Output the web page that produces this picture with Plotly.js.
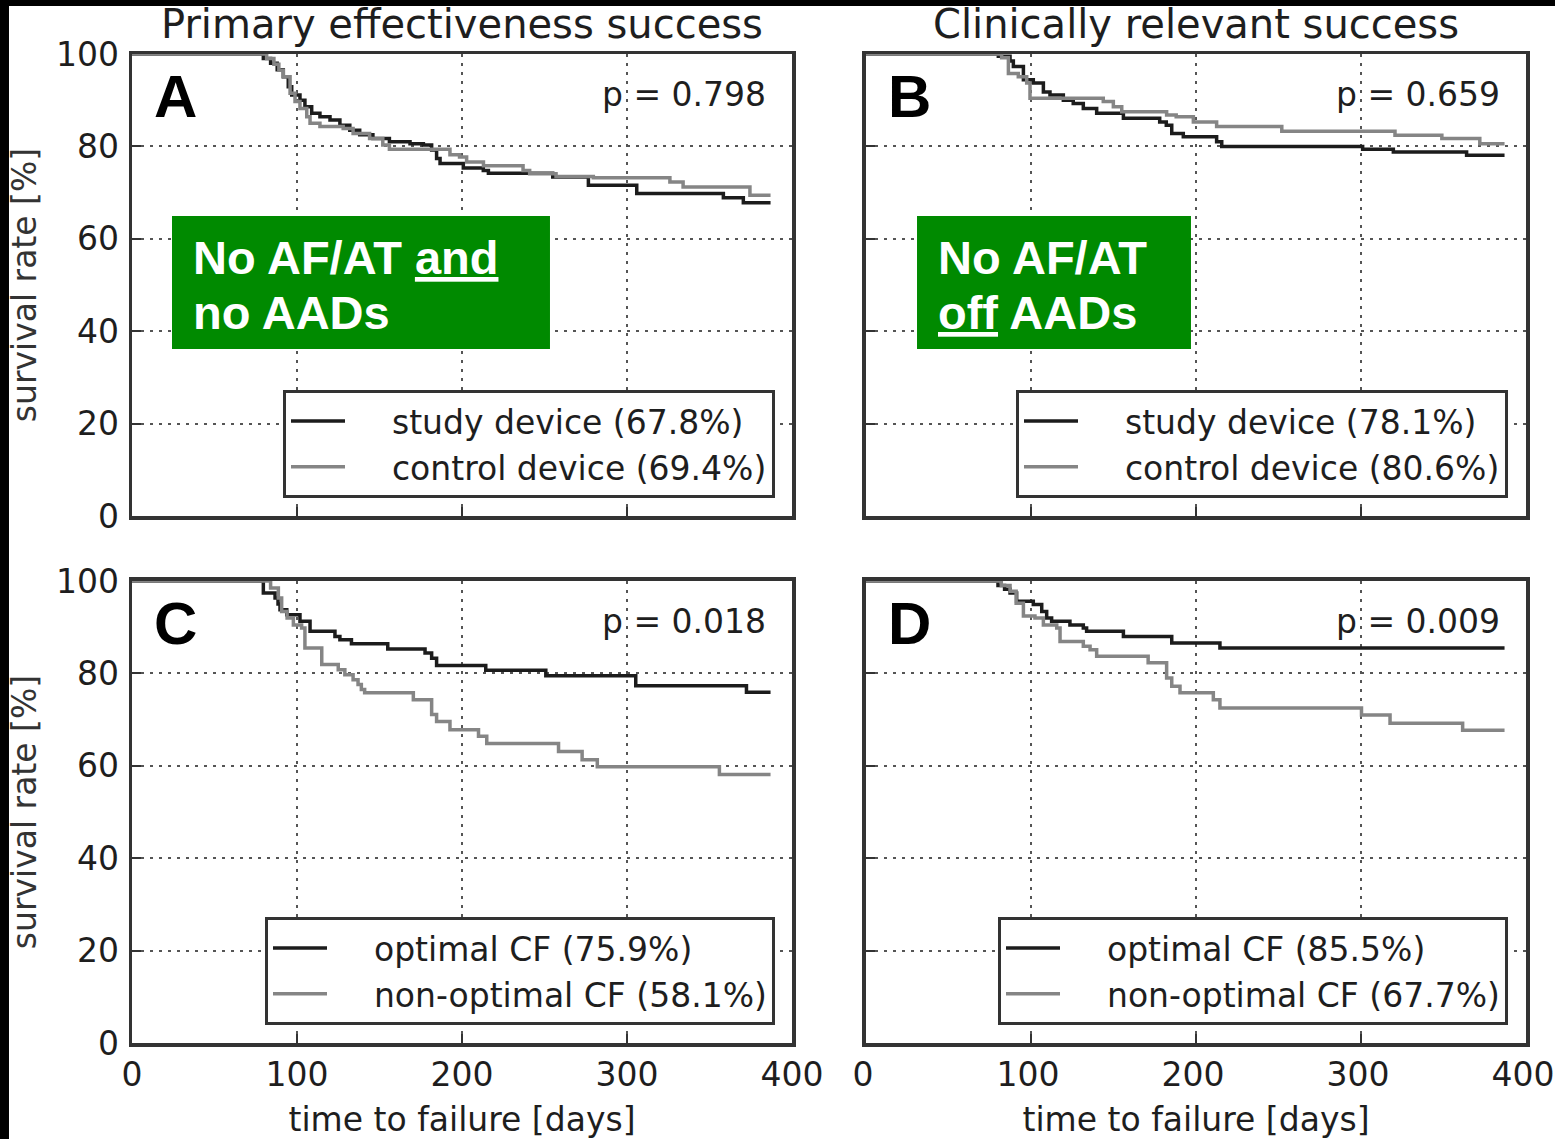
<!DOCTYPE html>
<html>
<head>
<meta charset="utf-8">
<script src="https://cdn.plot.ly/plotly-3.0.1.min.js"></script>
<style>
  html, body { margin: 0; padding: 0; background: #fff; width: 1555px; height: 1139px; overflow: hidden; }
  #chart { position: absolute; left: 0; top: 0; width: 1555px; height: 1139px; }
</style>
</head>
<body>
<div id="chart"></div>
<script>
// Kaplan-Meier step curves: event day -> survival (%) after that event
const daysA_study   = [0, 79.6, 84, 88, 91.7, 94.7, 96.8, 101.8, 104.8, 108.9, 113.9, 120, 126, 132, 138, 146, 156, 168.5, 176.6, 181.6, 184.6, 186.7, 200.8, 212.9, 216, 255, 276.6, 305.9, 358.4, 370.5, 387];
const survA_study   = [100, 99.0, 98.0, 96.6, 95.1, 92.9, 91.1, 90.0, 88.6, 87.2, 86.4, 85.7, 84.6, 83.5, 82.5, 81.7, 81.0, 80.6, 80.3, 79.2, 77.4, 76.3, 75.3, 74.8, 74.2, 73.4, 71.6, 69.8, 68.9, 67.8, 67.8];
const daysA_control = [0, 81.6, 86, 89, 91.7, 95.8, 98.8, 101.8, 105.9, 107.9, 113.9, 128, 134, 144, 152, 156, 192.7, 198.5, 202.8, 213, 237, 241, 257, 279.6, 326, 334, 374.5, 387];
const survA_control = [100, 99.0, 97.8, 96.5, 95.1, 91.5, 89.7, 88.2, 86.4, 85.0, 84.3, 83.9, 82.8, 81.7, 80.3, 79.4, 78.2, 77.7, 76.6, 75.8, 74.8, 74.1, 73.5, 73.2, 72.3, 71.2, 69.4, 69.4];

const daysB_study   = [0, 80.2, 87.3, 89.3, 95.4, 101.4, 107.5, 111.5, 119.6, 125.6, 131.7, 139.8, 156, 178, 182, 185.3, 192.3, 212.5, 215.6, 301, 319.6, 364, 387];
const survB_study   = [100, 99.5, 98.5, 97.3, 94.4, 93.7, 91.8, 91.1, 90.0, 89.3, 88.2, 87.2, 86.1, 85.3, 84.6, 82.8, 82.1, 81.0, 80.0, 79.4, 78.8, 78.1, 78.1];
const daysB_control = [0, 82.2, 86.3, 92.3, 97.4, 99.4, 143.8, 149.9, 155, 182.2, 188, 198.4, 212.5, 252, 320.6, 349, 372, 387];
const survB_control = [100, 99.2, 95.8, 95.1, 93.7, 90.4, 89.7, 88.6, 87.5, 86.8, 86.4, 85.3, 84.3, 83.3, 82.4, 81.7, 80.6, 80.6];

const daysC_opt     = [0, 79.6, 86.7, 88.5, 89.7, 93.8, 101.8, 107.9, 123, 126, 133, 155, 177.6, 181.6, 184.6, 214.4, 250.8, 305.3, 372.4, 387];
const survC_opt     = [100, 97.4, 96.3, 95.0, 93.8, 92.7, 91.3, 89.1, 88.0, 87.3, 86.4, 85.3, 84.4, 83.3, 81.7, 80.7, 79.5, 77.3, 75.9, 75.9];
const daysC_nonopt  = [0, 84, 88.7, 90.7, 94, 97.8, 102.8, 104.8, 115, 125, 129, 134, 137, 139, 141, 170.5, 181.6, 184.6, 192.7, 210, 215, 258.5, 272.8, 282, 356, 387];
const survC_nonopt  = [100, 98.5, 96.3, 93.4, 92.0, 90.5, 89.8, 85.5, 81.9, 80.8, 79.7, 78.6, 77.6, 76.5, 75.8, 74.3, 71.1, 69.6, 67.8, 66.4, 64.8, 63.1, 61.3, 59.8, 58.1, 58.1];

const daysD_opt     = [0, 80, 84, 87.3, 91.3, 101.4, 106.5, 109.5, 112.5, 123.6, 131.7, 133.7, 156, 185.3, 214.5, 387];
const survD_opt     = [100, 99.0, 98.2, 97.4, 95.6, 94.9, 93.4, 92.0, 91.3, 90.5, 89.8, 89.1, 88.0, 86.6, 85.5, 85.5];
const daysD_nonopt  = [0, 82, 87.3, 91, 95.4, 102.4, 107.5, 115.6, 117.6, 131.7, 135.8, 139.8, 171, 182.2, 185.3, 190.3, 210.5, 214.5, 300.3, 317.6, 361.6, 387];
const survD_nonopt  = [100, 99.0, 97.8, 95.2, 92.4, 92.0, 90.5, 89.8, 86.9, 85.9, 85.1, 83.7, 82.3, 79.0, 77.2, 75.8, 74.3, 72.5, 71.0, 69.2, 67.7, 67.7];

const panelTitles = ['Primary effectiveness success', 'Clinically relevant success'];
const panelLetters = ['A', 'B', 'C', 'D'];
const pValues = ['p = 0.798', 'p = 0.659', 'p = 0.018', 'p = 0.009'];
const namesAB = ['study device (67.8%)', 'control device (69.4%)', 'study device (78.1%)', 'control device (80.6%)'];
const namesCD = ['optimal CF (75.9%)', 'non-optimal CF (58.1%)', 'optimal CF (85.5%)', 'non-optimal CF (67.7%)'];
const xTicks = [0, 100, 200, 300, 400];
const yTicks = [0, 20, 40, 60, 80, 100];
const xLabel = 'time to failure [days]';
const yLabel = 'survival rate [%]';

const FONT = 'DejaVu Sans, sans-serif';
const INK = '#1e1e1e';
const DARK = '#1c1c1c';
const GREY = '#858585';
const GAP = '\u00a0\u00a0\u00a0\u00a0';  // room between legend line sample and its label

function curve(x, y, name, color, xa, ya, legend) {
  return {
    type: 'scatter', mode: 'lines', x: x, y: y, name: GAP + name,
    xaxis: xa, yaxis: ya, legend: legend,
    line: { shape: 'hv', color: color, width: 3.5 },
    hoverinfo: 'skip'
  };
}

const data = [
  curve(daysA_study,   survA_study,   namesAB[0], DARK, 'x',  'y',  'legend'),
  curve(daysA_control, survA_control, namesAB[1], GREY, 'x',  'y',  'legend'),
  curve(daysB_study,   survB_study,   namesAB[2], DARK, 'x2', 'y2', 'legend2'),
  curve(daysB_control, survB_control, namesAB[3], GREY, 'x2', 'y2', 'legend2'),
  curve(daysC_opt,     survC_opt,     namesCD[0], DARK, 'x3', 'y3', 'legend3'),
  curve(daysC_nonopt,  survC_nonopt,  namesCD[1], GREY, 'x3', 'y3', 'legend3'),
  curve(daysD_opt,     survD_opt,     namesCD[2], DARK, 'x4', 'y4', 'legend4'),
  curve(daysD_nonopt,  survD_nonopt,  namesCD[3], GREY, 'x4', 'y4', 'legend4')
];

function axisBase() {
  return {
    ticks: 'inside', ticklen: 9, tickwidth: 2, tickcolor: '#333',
    showgrid: true, gridcolor: '#555', gridwidth: 2, griddash: '3px,6px',
    showline: true, mirror: true, linecolor: '#333', linewidth: 3.5,
    zeroline: false, fixedrange: true, ticklabeloverflow: 'allow',
    tickfont: { family: FONT, size: 33, color: INK }
  };
}
function xAxis(domain, anchor, withLabels, shift) {
  const a = Object.assign(axisBase(), {
    domain: domain, anchor: anchor, range: [0, 400], tickvals: xTicks,
    showticklabels: withLabels, ticklabelstandoff: 0, ticklabelshift: shift || 0
  });
  if (withLabels) a.title = { text: xLabel, font: { family: FONT, size: 33, color: INK }, standoff: 16 };
  return a;
}
function yAxis(domain, anchor, withLabels) {
  const a = Object.assign(axisBase(), {
    domain: domain, anchor: anchor, range: [0, 100], tickvals: yTicks,
    showticklabels: withLabels, ticklabelstandoff: 3
  });
  if (withLabels) a.title = { text: yLabel, font: { family: FONT, size: 33, color: '#333' }, standoff: 10 };
  return a;
}

const LEFT = [0, 0.47346], RIGHT = [0.52654, 1];
const TOP = [0.53286, 1], BOTTOM = [0, 0.46714];

const axisPairs = [['x', 'y'], ['x2', 'y2'], ['x3', 'y3'], ['x4', 'y4']];
const annotations = [];
axisPairs.forEach(function (p, i) {
  const xr = p[0] + ' domain', yr = p[1] + ' domain';
  annotations.push({
    xref: xr, yref: yr, x: 0.03, y: 0.909, xanchor: 'left', yanchor: 'middle',
    text: '<b>' + panelLetters[i] + '</b>', showarrow: false,
    font: { family: 'Liberation Sans, Arial, sans-serif', size: 60, color: '#000' }
  });
  annotations.push({
    xref: xr, yref: yr, x: 0.9636, y: 0.913, xanchor: 'right', yanchor: 'middle',
    text: pValues[i], showarrow: false,
    font: { family: FONT, size: 33, color: INK }
  });
});
panelTitles.forEach(function (t, i) {
  annotations.push({
    xref: axisPairs[i][0] + ' domain', yref: axisPairs[i][1] + ' domain',
    x: 0.5, y: 1.064, xanchor: 'center', yanchor: 'middle', text: t, showarrow: false,
    font: { family: FONT, size: 40, color: INK }
  });
});

// Outcome definition boxes on the top row
const boxLines = [
  ['No AF/AT <span style="text-decoration:underline">and</span>', 'no AADs'],
  ['No AF/AT', '<span style="text-decoration:underline">off</span> AADs']
];
const boxSpan = [[0.0606, 0.6333, 0.0894], [0.0773, 0.4924, 0.106]];
const shapes = [];
boxLines.forEach(function (lines, i) {
  const xr = axisPairs[i][0] + ' domain', yr = axisPairs[i][1] + ' domain';
  shapes.push({
    type: 'rect', xref: xr, yref: yr, x0: boxSpan[i][0], x1: boxSpan[i][1], y0: 0.3615, y1: 0.6494,
    fillcolor: '#008a00', line: { width: 0 }, layer: 'above'
  });
  [0.5605, 0.4394].forEach(function (yy, k) {
    annotations.push({
      xref: xr, yref: yr, x: boxSpan[i][2], y: yy, xanchor: 'left', yanchor: 'middle',
      text: '<b>' + lines[k] + '</b>', showarrow: false, align: 'left',
      font: { family: 'Liberation Sans, Arial, sans-serif', size: 47, color: '#fff' }
    });
  });
});

// Dark frame along the left and top edges of the figure
shapes.push({ type: 'rect', xref: 'paper', yref: 'paper', x0: -0.2, x1: -0.08824, y0: -0.2, y1: 1.2,
  fillcolor: '#000', line: { width: 0 }, layer: 'below' });
shapes.push({ type: 'rect', xref: 'paper', yref: 'paper', x0: -0.2, x1: 1.2, y0: 1.04853, y1: 1.2,
  fillcolor: '#000', line: { width: 0 }, layer: 'below' });

function legendAt(x, y) {
  return {
    x: x, y: y, xanchor: 'right', yanchor: 'top', xref: 'paper', yref: 'paper',
    bgcolor: '#fff', bordercolor: '#333', borderwidth: 3,
    font: { family: FONT, size: 33, color: INK },
    itemwidth: 54, tracegroupgap: 0, traceorder: 'normal'
  };
}

const layout = {
  width: 1555, height: 1139,
  margin: { l: 132, r: 29, t: 54, b: 96, pad: 0 },
  paper_bgcolor: '#fff', plot_bgcolor: '#fff',
  font: { family: FONT, size: 33, color: INK },
  showlegend: true,
  xaxis: xAxis(LEFT, 'y', false),
  yaxis: yAxis(TOP, 'x', true),
  xaxis2: xAxis(RIGHT, 'y2', false),
  yaxis2: yAxis(TOP, 'x2', false),
  xaxis3: xAxis(LEFT, 'y3', true),
  yaxis3: yAxis(BOTTOM, 'x3', true),
  xaxis4: xAxis(RIGHT, 'y4', true, -3),
  yaxis4: yAxis(BOTTOM, 'x4', false),
  legend: legendAt(0.46126, 0.66027),
  legend2: legendAt(0.98709, 0.66027),
  legend3: legendAt(0.46126, 0.1274),
  legend4: legendAt(0.98709, 0.1274),
  annotations: annotations,
  shapes: shapes
};

Plotly.newPlot('chart', data, layout, { displayModeBar: false, staticPlot: true });
</script>
</body>
</html>
